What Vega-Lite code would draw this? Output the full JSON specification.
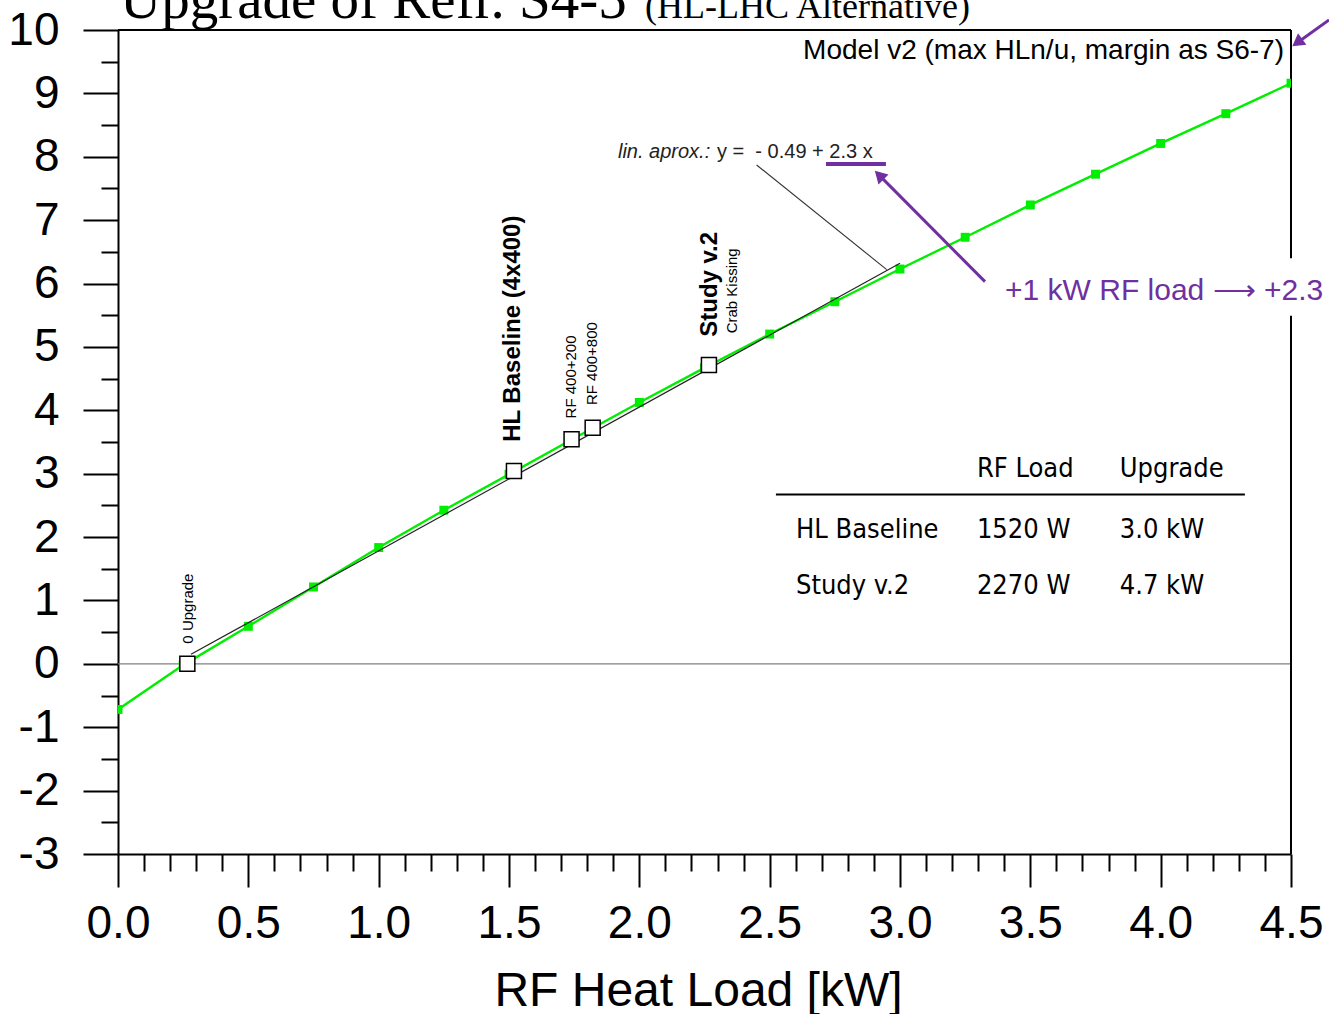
{
  "$schema": "https://vega.github.io/schema/vega-lite/v6.json",
  "autosize": {"type": "none"},
  "width": 1173,
  "height": 824,
  "padding": {"left": 118, "top": 30, "right": 38, "bottom": 160},
  "background": "white",
  "config": {"view": {"stroke": null}, "font": "Liberation Sans"},
  "layer": [
    {
      "data": {"values": [{"y": 0}]},
      "mark": {"type": "rule", "color": "#808080", "strokeWidth": 1.2},
      "encoding": {"y": {"field": "y", "type": "quantitative", "scale": {"domain": [-3, 10], "nice": false, "zero": false}}}
    },
    {
      "data": {"values": [{"x": 0, "x2": 4.5, "y": 10}]},
      "mark": {"type": "rule", "color": "black", "strokeWidth": 2},
      "encoding": {
        "x": {"field": "x", "type": "quantitative"},
        "x2": {"field": "x2"},
        "y": {"field": "y", "type": "quantitative"}
      }
    },
    {
      "data": {"values": [{"x": 4.5, "y": 6.4, "y2": 10}, {"x": 4.5, "y": -3, "y2": 5.49}]},
      "mark": {"type": "rule", "color": "black", "strokeWidth": 2},
      "encoding": {
        "x": {"field": "x", "type": "quantitative"},
        "y": {"field": "y", "type": "quantitative"},
        "y2": {"field": "y2"}
      }
    },
    {
      "data": {"name": "green"},
      "mark": {"type": "line", "color": "#00ee00", "strokeWidth": 2.4, "clip": true},
      "encoding": {
        "x": {
          "field": "x", "type": "quantitative",
          "scale": {"domain": [0, 4.5], "nice": false, "zero": false},
          "axis": {
            "title": "RF Heat Load [kW]",
            "tickCount": 500,
            "values": [0,0.1,0.2,0.3,0.4,0.5,0.6,0.7,0.8,0.9,1,1.1,1.2,1.3,1.4,1.5,1.6,1.7,1.8,1.9,2,2.1,2.2,2.3,2.4,2.5,2.6,2.7,2.8,2.9,3,3.1,3.2,3.3,3.4,3.5,3.6,3.7,3.8,3.9,4,4.1,4.2,4.3,4.4,4.5],
            "labelExpr": "round(datum.value*10) % 5 === 0 ? format(datum.value, '.1f') : ''",
            "tickSize": {"condition": {"test": "round(datum.value*10) % 5 === 0", "value": 33}, "value": 17},
            "tickColor": "black", "tickWidth": 2,
            "domainColor": "black", "domainWidth": 2,
            "grid": false,
            "labelFont": "Liberation Sans", "labelFontSize": 46, "labelColor": "black",
            "labelBaseline": "alphabetic", "labelPadding": 50,
            "labelOverlap": false, "labelBound": false, "labelFlush": false,
            "titleFont": "Liberation Sans", "titleFontSize": 48, "titleFontWeight": "normal", "titleColor": "black",
            "titleBaseline": "alphabetic", "titleY": 151, "titleX": 580
          }
        },
        "y": {
          "field": "y", "type": "quantitative",
          "scale": {"domain": [-3, 10], "nice": false, "zero": false},
          "axis": {
            "title": null,
            "tickCount": 500,
            "values": [-3,-2.5,-2,-1.5,-1,-0.5,0,0.5,1,1.5,2,2.5,3,3.5,4,4.5,5,5.5,6,6.5,7,7.5,8,8.5,9,9.5,10],
            "labelExpr": "datum.value % 1 === 0 ? '' + datum.value : ''",
            "tickSize": {"condition": {"test": "datum.value % 1 === 0", "value": 35}, "value": 17},
            "tickColor": "black", "tickWidth": 2,
            "domainColor": "black", "domainWidth": 2,
            "grid": false,
            "labelFont": "Liberation Sans", "labelFontSize": 46, "labelColor": "black",
            "labelPadding": 24, "labelOverlap": false, "labelBound": false, "labelFlush": false
          }
        }
      }
    },
    {
      "data": {"name": "green"},
      "mark": {"type": "point", "shape": "square", "filled": true, "color": "#00ee00", "size": 80, "opacity": 1, "clip": true},
      "encoding": {
        "x": {"field": "x", "type": "quantitative"},
        "y": {"field": "y", "type": "quantitative"}
      }
    },
    {
      "data": {"values": [{"x": 0.28, "y": 0.15}, {"x": 3.0, "y": 6.32}]},
      "mark": {"type": "line", "color": "#222222", "strokeWidth": 1.2},
      "encoding": {
        "x": {"field": "x", "type": "quantitative"},
        "y": {"field": "y", "type": "quantitative"}
      }
    },
    {
      "data": {"values": [{"x": 2.45, "y": 7.87}, {"x": 2.949, "y": 6.22}]},
      "mark": {"type": "line", "color": "#333333", "strokeWidth": 1.1},
      "encoding": {
        "x": {"field": "x", "type": "quantitative"},
        "y": {"field": "y", "type": "quantitative"}
      }
    },
    {
      "data": {"name": "cases"},
      "mark": {"type": "point", "shape": "square", "filled": true, "fill": "white", "stroke": "black", "strokeWidth": 1.5, "size": 225, "opacity": 1},
      "encoding": {
        "x": {"field": "x", "type": "quantitative"},
        "y": {"field": "y", "type": "quantitative"}
      }
    },
    {
      "data": {"name": "vlabels_small"},
      "mark": {"type": "text", "angle": 270, "align": "left", "baseline": "middle", "font": "Liberation Sans", "fontSize": 15, "color": "black"},
      "encoding": {
        "x": {"field": "x", "type": "quantitative"},
        "y": {"field": "y", "type": "quantitative"},
        "text": {"field": "label"}
      }
    },
    {
      "data": {"name": "vlabels_bold"},
      "mark": {"type": "text", "angle": 270, "align": "left", "baseline": "middle", "font": "Liberation Sans", "fontSize": 24, "fontWeight": "bold", "color": "black"},
      "encoding": {
        "x": {"field": "x", "type": "quantitative"},
        "y": {"field": "y", "type": "quantitative"},
        "text": {"field": "label"}
      }
    },
    {
      "data": {"values": [{"x": 4.473, "y": 9.54, "label": "Model v2 (max HLn/u, margin as S6-7)"}]},
      "mark": {"type": "text", "align": "right", "baseline": "alphabetic", "font": "Liberation Sans", "fontSize": 28, "color": "black"},
      "encoding": {
        "x": {"field": "x", "type": "quantitative"},
        "y": {"field": "y", "type": "quantitative"},
        "text": {"field": "label"}
      }
    },
    {
      "data": {"values": [{"x": 1.918, "y": 7.98, "label": "lin. aprox.:"}]},
      "mark": {"type": "text", "align": "left", "baseline": "alphabetic", "font": "Liberation Sans", "fontSize": 20, "fontStyle": "italic", "color": "#222222"},
      "encoding": {
        "x": {"field": "x", "type": "quantitative"},
        "y": {"field": "y", "type": "quantitative"},
        "text": {"field": "label"}
      }
    },
    {
      "data": {"values": [{"x": 2.298, "y": 7.98, "label": "y =\u00a0 - 0.49 + 2.3 x"}]},
      "mark": {"type": "text", "align": "left", "baseline": "alphabetic", "font": "Liberation Sans", "fontSize": 20, "color": "#222222"},
      "encoding": {
        "x": {"field": "x", "type": "quantitative"},
        "y": {"field": "y", "type": "quantitative"},
        "text": {"field": "label"}
      }
    },
    {
      "data": {"values": [{"x": 2.524, "x2": 4.323, "y": 2.67}]},
      "mark": {"type": "rule", "color": "black", "strokeWidth": 2},
      "encoding": {
        "x": {"field": "x", "type": "quantitative"},
        "x2": {"field": "x2"},
        "y": {"field": "y", "type": "quantitative"}
      }
    },
    {
      "data": {"name": "table"},
      "mark": {"type": "text", "align": "left", "baseline": "alphabetic", "font": "'DejaVu Sans Condensed', 'Liberation Sans'", "fontSize": 27, "color": "black"},
      "encoding": {
        "x": {"field": "x", "type": "quantitative"},
        "y": {"field": "y", "type": "quantitative"},
        "text": {"field": "label"}
      }
    },
    {
      "data": {"values": [{"x": 2.716, "x2": 2.946, "y": 7.887}]},
      "mark": {"type": "rule", "color": "#7030a0", "strokeWidth": 4},
      "encoding": {
        "x": {"field": "x", "type": "quantitative"},
        "x2": {"field": "x2"},
        "y": {"field": "y", "type": "quantitative"}
      }
    },
    {
      "data": {"name": "arrows"},
      "mark": {"type": "rule", "color": "#7030a0", "strokeWidth": 3},
      "encoding": {
        "x": {"field": "x", "type": "quantitative"},
        "x2": {"field": "x2"},
        "y": {"field": "y", "type": "quantitative"},
        "y2": {"field": "y2"}
      }
    },
    {
      "data": {"name": "arrows"},
      "mark": {"type": "point", "shape": "triangle-up", "filled": true, "color": "#7030a0", "size": 200, "opacity": 1},
      "encoding": {
        "x": {"field": "x2", "type": "quantitative"},
        "y": {"field": "y2", "type": "quantitative"},
        "angle": {"field": "ang", "type": "quantitative", "scale": null}
      }
    },
    {
      "data": {"values": [{"x": 3.403, "y": 5.74, "label": "+1 kW RF load ⟶ +2.3"}]},
      "mark": {"type": "text", "align": "left", "baseline": "alphabetic", "font": "Liberation Sans", "fontSize": 30, "color": "#7030a0"},
      "encoding": {
        "x": {"field": "x", "type": "quantitative"},
        "y": {"field": "y", "type": "quantitative"},
        "text": {"field": "label"}
      }
    },
    {
      "data": {"values": [{"x": 0.008, "y": 10.19, "label": "Upgrade of Refr. S4-5"}]},
      "mark": {"type": "text", "align": "left", "baseline": "alphabetic", "font": "Liberation Serif", "fontSize": 57, "color": "black"},
      "encoding": {
        "x": {"field": "x", "type": "quantitative"},
        "y": {"field": "y", "type": "quantitative"},
        "text": {"field": "label"}
      }
    },
    {
      "data": {"values": [{"x": 2.022, "y": 10.19, "label": "(HL-LHC Alternative)"}]},
      "mark": {"type": "text", "align": "left", "baseline": "alphabetic", "font": "Liberation Serif", "fontSize": 36, "color": "black"},
      "encoding": {
        "x": {"field": "x", "type": "quantitative"},
        "y": {"field": "y", "type": "quantitative"},
        "text": {"field": "label"}
      }
    }
  ],
  "datasets": {
    "green": [
      {"x": 0, "y": -0.72},
      {"x": 0.25, "y": -0.02},
      {"x": 0.5, "y": 0.592},
      {"x": 0.75, "y": 1.213},
      {"x": 1.0, "y": 1.835},
      {"x": 1.25, "y": 2.424},
      {"x": 1.5, "y": 2.99},
      {"x": 1.75, "y": 3.56},
      {"x": 2.0, "y": 4.124},
      {"x": 2.25, "y": 4.67},
      {"x": 2.5, "y": 5.203},
      {"x": 2.75, "y": 5.713},
      {"x": 3.0, "y": 6.229},
      {"x": 3.25, "y": 6.73},
      {"x": 3.5, "y": 7.24},
      {"x": 3.75, "y": 7.725},
      {"x": 4.0, "y": 8.21},
      {"x": 4.25, "y": 8.68},
      {"x": 4.5, "y": 9.16}
    ],
    "cases": [
      {"case": "0 Upgrade", "x": 0.266, "y": 0.0},
      {"case": "HL Baseline (4x400)", "x": 1.519, "y": 3.044},
      {"case": "RF 400+200", "x": 1.74, "y": 3.545},
      {"case": "RF 400+800", "x": 1.821, "y": 3.723},
      {"case": "Study v.2", "x": 2.267, "y": 4.713}
    ],
    "vlabels_small": [
      {"label": "0 Upgrade", "x": 0.27, "y": 0.319},
      {"label": "RF 400+200", "x": 1.737, "y": 3.872},
      {"label": "RF 400+800", "x": 1.817, "y": 4.082},
      {"label": "Crab Kissing", "x": 2.354, "y": 5.214}
    ],
    "vlabels_bold": [
      {"label": "HL Baseline (4x400)", "x": 1.516, "y": 3.502},
      {"label": "Study v.2", "x": 2.271, "y": 5.16}
    ],
    "table": [
      {"label": "RF Load", "x": 3.295, "y": 2.94},
      {"label": "Upgrade", "x": 3.843, "y": 2.94},
      {"label": "HL Baseline", "x": 2.601, "y": 1.99},
      {"label": "1520 W", "x": 3.295, "y": 1.99},
      {"label": "3.0 kW", "x": 3.843, "y": 1.99},
      {"label": "Study v.2", "x": 2.601, "y": 1.106},
      {"label": "2270 W", "x": 3.295, "y": 1.106},
      {"label": "4.7 kW", "x": 3.843, "y": 1.106}
    ],
    "arrows": [
      {"x": 3.326, "y": 6.03, "x2": 2.92, "y2": 7.71, "ang": 315},
      {"x": 4.646, "y": 10.16, "x2": 4.524, "y2": 9.8, "ang": 234}
    ]
  }
}
